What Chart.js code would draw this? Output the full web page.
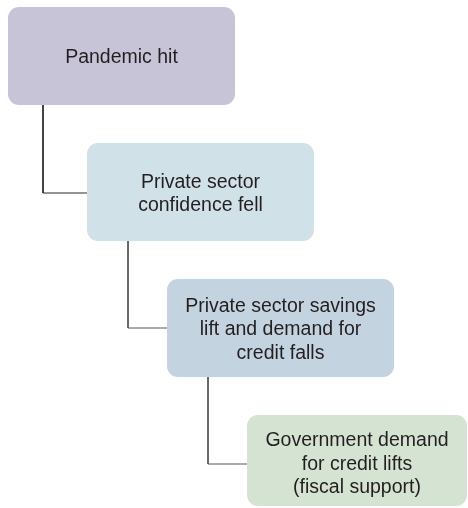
<!DOCTYPE html>
<html>
<head>
<meta charset="utf-8">
<script src="https://cdn.jsdelivr.net/npm/chart.js@4/dist/chart.umd.min.js"></script>
<style>
  html, body { margin: 0; padding: 0; background: #fff; }
  #wrap { width: 468px; height: 508px; }
</style>
</head>
<body>
<div id="wrap"><canvas id="flow" width="468" height="508"></canvas></div>
<script>
// flow steps (text per box, one entry per line)
const stepLabels = [
  ['Pandemic hit'],
  ['Private sector', 'confidence fell'],
  ['Private sector savings', 'lift and demand for', 'credit falls'],
  ['Government demand', 'for credit lifts', '(fiscal support)']
];
// box extents in chart units (x right, y down)
const boxLeft = [8, 87, 167, 247];
const boxRight = [235, 314, 394, 467];
const boxTop = [7, 143, 279, 415];
const boxBottom = [105, 241, 377, 506];
const boxColors = ['#c8c4d8', '#d0e2e8', '#c3d3e0', '#d5e4d2'];

// elbow connectors between consecutive boxes
const connectorX = [43, 128, 208];
const connectorY = [193, 328, 464];

// build line datasets for connectors from the arrays above
const connectorSets = connectorX.map((cx, i) => ({
  data: [
    { x: cx, y: boxBottom[i] },
    { x: cx, y: connectorY[i] },
    { x: boxLeft[i + 1], y: connectorY[i] }
  ],
  showLine: true,
  borderColor: i === 0 ? '#2b2b2b' : '#555555',
  borderWidth: 1,
  pointRadius: 0,
  fill: false
}));

// draws the rounded boxes and their text using the chart scales
const boxPlugin = {
  id: 'boxPlugin',
  afterDatasetsDraw(chart) {
    const { ctx, scales: { x, y } } = chart;
    ctx.save();
    stepLabels.forEach((lines, i) => {
      const l = x.getPixelForValue(boxLeft[i]);
      const r = x.getPixelForValue(boxRight[i]);
      const t = y.getPixelForValue(boxTop[i]);
      const b = y.getPixelForValue(boxBottom[i]);
      ctx.fillStyle = boxColors[i];
      ctx.beginPath();
      ctx.roundRect(l, t, r - l, b - t, 11);
      ctx.fill();

      ctx.fillStyle = '#231f20';
      ctx.font = '19.5px "Liberation Sans", Arial, sans-serif';
      ctx.textAlign = 'center';
      ctx.textBaseline = 'middle';
      const lh = 23.5;
      const cx = (l + r) / 2;
      // last box sits lower in its frame (it is cut off at the bottom)
      const shift = i === stepLabels.length - 1 ? 4 : 2;
      const cy = (t + b) / 2 + shift - ((lines.length - 1) * lh) / 2;
      lines.forEach((line, k) => ctx.fillText(line, cx, cy + k * lh));
    });
    ctx.restore();
  }
};

new Chart(document.getElementById('flow'), {
  type: 'scatter',
  data: { datasets: connectorSets },
  options: {
    responsive: false,
    animation: false,
    layout: { padding: 0 },
    plugins: { legend: { display: false }, tooltip: { enabled: false } },
    scales: {
      x: { type: 'linear', min: 0, max: 468, display: false },
      y: { type: 'linear', min: 0, max: 508, reverse: true, display: false }
    }
  },
  plugins: [boxPlugin]
});
</script>
</body>
</html>
